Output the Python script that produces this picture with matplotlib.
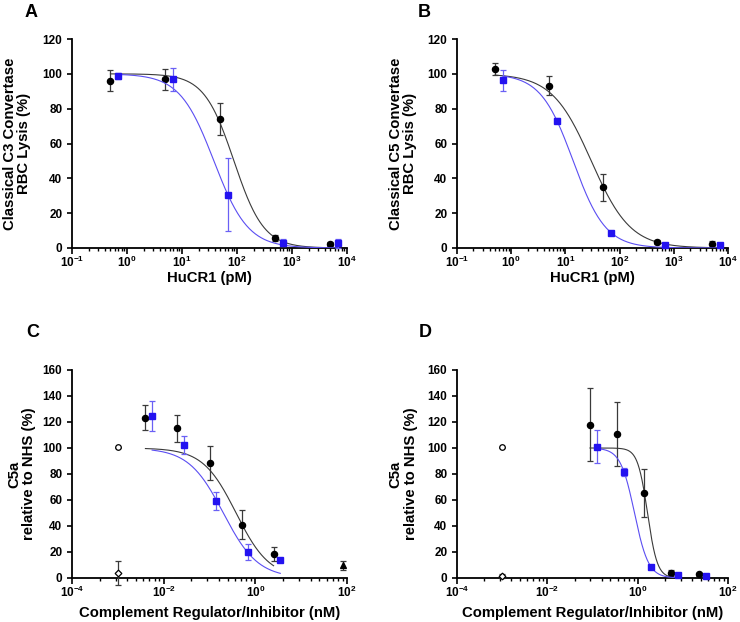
import numpy as np
import matplotlib
matplotlib.use('Agg')
import matplotlib.pyplot as plt
import matplotlib.ticker as ticker

plt.rcParams['font.family'] = ['Liberation Sans', 'DejaVu Sans']
plt.rcParams['font.weight'] = 'bold'
plt.rcParams['mathtext.fontset'] = 'custom'
plt.rcParams['mathtext.rm'] = 'Liberation Sans:bold'
plt.rcParams['mathtext.it'] = 'Liberation Sans:bold'
plt.rcParams['mathtext.bf'] = 'Liberation Sans:bold'

# ---------- Panel A: classical C3 convertase (HuCR1, pM) ----------
a_conc_black = [0.5, 5, 50, 500, 5000]
a_lysis_black = [96, 97, 74, 5.5, 2.3]
a_err_black = [6, 6, 9, 1.7, 1]
a_conc_blue = [0.7, 7, 70, 700, 7000]
a_lysis_blue = [98.8, 96.9, 30.6, 2.9, 2.7]
a_err_blue = [1.8, 6.7, 20.8, 2, 2.5]
# fitted curves: top, bottom, IC50, hill, x from, x to
a_fit_black = [100, 0, 88, 1.6, 0.5, 5000]
a_fit_blue = [100, 0, 38, 1.4, 0.7, 7000]

# ---------- Panel B: classical C5 convertase (HuCR1, pM) ----------
b_conc_black = [0.5, 5, 50, 500, 5000]
b_lysis_black = [102.8, 93.3, 34.8, 3.4, 2.3]
b_err_black = [3.6, 5.5, 7.8, 1, 2]
b_conc_blue = [0.7, 7, 70, 700, 7000]
b_lysis_blue = [96.3, 73.2, 8.6, 1.9, 1.9]
b_err_blue = [6.1, 1.7, 1, 0.6, 0.6]
b_fit_black = [100, 0, 30, 1.2, 0.5, 5000]
b_fit_blue = [100, 0, 13.9, 1.45, 0.7, 7000]

# ---------- Panel C: C5a relative to NHS (nM) ----------
c_conc_black = [0.004, 0.02, 0.1, 0.5, 2.5]
c_c5a_black = [123.4, 115.2, 88.3, 41, 18.4]
c_err_black = [9.3, 10.3, 12.9, 11, 5.1]
c_conc_blue = [0.0056, 0.028, 0.14, 0.7, 3.5]
c_c5a_blue = [124.7, 102.4, 58.9, 20.2, 13.6]
c_err_blue = [11.4, 7, 6.9, 6, 0.5]
c_fit_black = [100, 0, 0.38, 1.2, 0.004, 2.5]
c_fit_blue = [100, 0, 0.2, 1.15, 0.0056, 3.5]
c_nhs = [0.001, 100.4, 0.5]          # x, y, err (open circle)
c_inact = [0.001, 3.8, 9]            # open diamond
c_inhib = [80, 9.7, 3.4]             # filled triangle

# ---------- Panel D: C5a relative to NHS (nM) ----------
d_conc_black = [0.088, 0.35, 1.4, 5.6, 22.4]
d_c5a_black = [118, 110.9, 65.3, 3.8, 2.8]
d_err_black = [28, 24.6, 18.5, 2, 1]
d_conc_blue = [0.125, 0.5, 2, 8, 32]
d_c5a_blue = [101.1, 81.7, 8.2, 2.6, 1.5]
d_err_blue = [12.7, 3, 1, 1.2, 0.6]
d_fit_black = [100, 0, 1.65, 4.0, 0.088, 5.6]
d_fit_blue = [100, 0, 0.85, 2.8, 0.125, 8]
d_nhs = [0.001, 100.6, 0.5]
d_inact = [0.001, 1.5, 1.5]

BLACK = '#000000'
BLACK_LINE = '#3a3a3a'
BLUE = '#2312f0'
BLUE_LINE = '#5b4ef2'
BLUE_ERR = '#6a60f5'
TICK_FS = 8.5
LABEL_FS = 10.7


def logistic(fit):
    top, bottom, ic50, hill, x0, x1 = fit
    x = np.logspace(np.log10(x0), np.log10(x1), 300)
    return x, bottom + (top - bottom) / (1 + (x / ic50) ** hill)


def style_axes(ax, xmin, xmax, ymax, major_exps, minor_ticks):
    ax.set_xscale('log')
    ax.set_xlim(xmin, xmax)
    ax.set_ylim(0, ymax)
    ax.spines['top'].set_visible(False)
    ax.spines['right'].set_visible(False)
    for s in ['left', 'bottom']:
        ax.spines[s].set_linewidth(1.3)
    ax.set_xticks([10.0 ** e for e in major_exps])
    ax.set_xticklabels([f'$10^{{{e}}}$' for e in major_exps])
    ax.xaxis.set_minor_locator(ticker.FixedLocator(minor_ticks))
    ax.xaxis.set_minor_formatter(ticker.NullFormatter())
    ax.set_yticks(np.arange(0, ymax + 1, 20))
    ax.tick_params(axis='x', which='major', length=4, width=1.2, labelsize=TICK_FS, pad=1)
    ax.tick_params(axis='x', which='minor', length=2.5, width=1)
    ax.tick_params(axis='y', which='major', length=3.5, width=1.2, labelsize=TICK_FS, pad=3.5)


def draw_series(ax, x, y, err, fit, marker, color, ecolor, lcolor, zorder):
    cx, cy = logistic(fit)
    ax.plot(cx, cy, color=lcolor, lw=0.8, zorder=zorder)
    ax.errorbar(x, y, yerr=err, fmt='none', ecolor=ecolor, elinewidth=0.9,
                capsize=2.5, capthick=0.9, zorder=zorder + 1, clip_on=False)
    ax.plot(x, y, linestyle='none', marker=marker, color=color, markersize=4.4,
            zorder=zorder + 2, clip_on=False)


fig = plt.figure(figsize=(7.4, 6.22), dpi=100)
W, H = 740, 622


def make_axes(x0, x1, ytop, ybot):
    return fig.add_axes([x0 / W, 1 - ybot / H, (x1 - x0) / W, (ybot - ytop) / H])


axA = make_axes(72, 347, 39, 248)
axB = make_axes(457, 728, 39, 248)
axC = make_axes(72, 347, 370, 578)
axD = make_axes(457, 728, 370, 578)

# decade minor ticks for the pM axes
pm_minor = [k * 10.0 ** e for e in range(-1, 4) for k in range(2, 10)]
# minor ticks between 2-decade majors (nM axes)
nm_minor = [k ** 2 * 10.0 ** e for e in (-4, -2, 0) for k in range(2, 10)]

for ax, d in [(axA, [a_conc_black, a_lysis_black, a_err_black, a_fit_black,
                     a_conc_blue, a_lysis_blue, a_err_blue, a_fit_blue]),
              (axB, [b_conc_black, b_lysis_black, b_err_black, b_fit_black,
                     b_conc_blue, b_lysis_blue, b_err_blue, b_fit_blue])]:
    style_axes(ax, 0.1, 1e4, 120, [-1, 0, 1, 2, 3, 4], pm_minor)
    draw_series(ax, d[0], d[1], d[2], d[3], 'o', BLACK, BLACK_LINE, BLACK_LINE, 3)
    draw_series(ax, d[4], d[5], d[6], d[7], 's', BLUE, BLUE_ERR, BLUE_LINE, 6)
    ax.set_xlabel('HuCR1 (pM)', fontsize=LABEL_FS, fontweight='bold')

axA.set_ylabel('Classical C3 Convertase\nRBC Lysis (%)', fontsize=LABEL_FS,
               fontweight='bold', linespacing=1.05)
axB.set_ylabel('Classical C5 Convertase\nRBC Lysis (%)', fontsize=LABEL_FS,
               fontweight='bold', linespacing=1.05)

for ax, d in [(axC, [c_conc_black, c_c5a_black, c_err_black, c_fit_black,
                     c_conc_blue, c_c5a_blue, c_err_blue, c_fit_blue]),
              (axD, [d_conc_black, d_c5a_black, d_err_black, d_fit_black,
                     d_conc_blue, d_c5a_blue, d_err_blue, d_fit_blue])]:
    style_axes(ax, 1e-4, 1e2, 160, [-4, -2, 0, 2], nm_minor)
    draw_series(ax, d[0], d[1], d[2], d[3], 'o', BLACK, BLACK_LINE, BLACK_LINE, 3)
    draw_series(ax, d[4], d[5], d[6], d[7], 's', BLUE, BLUE_ERR, BLUE_LINE, 6)
    ax.set_xlabel('Complement Regulator/Inhibitor (nM)', fontsize=LABEL_FS, fontweight='bold')
    ax.set_ylabel('C5a\nrelative to NHS (%)', fontsize=LABEL_FS, fontweight='bold',
                  linespacing=1.1)

# control points
for ax, ctrl, mk, fc in [(axC, c_nhs, 'o', 'white'), (axC, c_inact, 'D', 'white'),
                         (axC, c_inhib, '^', BLACK), (axD, d_nhs, 'o', 'white'),
                         (axD, d_inact, 'D', 'white')]:
    ax.errorbar([ctrl[0]], [ctrl[1]], yerr=[ctrl[2]], fmt='none', ecolor=BLACK_LINE,
                elinewidth=0.9, capsize=2.5, capthick=0.9, zorder=8, clip_on=False)
    ax.plot([ctrl[0]], [ctrl[1]], linestyle='none', marker=mk,
            markersize=3.4 if mk == 'D' else 4.0,
            markerfacecolor=fc, markeredgecolor=BLACK, markeredgewidth=0.9, zorder=9,
            clip_on=False)

# label positions
axA.xaxis.set_label_coords(0.5, -0.11)
axB.xaxis.set_label_coords(0.5, -0.11)
axC.xaxis.set_label_coords(0.5, -0.135)
axD.xaxis.set_label_coords(0.5, -0.135)
for ax, xpos in [(axA, -0.2), (axB, -0.2), (axC, -0.182), (axD, -0.198)]:
    ax.yaxis.label.set_verticalalignment('center')
    ax.yaxis.set_label_coords(xpos, 0.5)

for letter, px, py in [('A', 25, 17), ('B', 418, 17), ('C', 26, 337), ('D', 419, 337)]:
    fig.text(px / W, 1 - py / H, letter, fontsize=13, fontweight='bold', va='baseline')

fig.savefig('out.png', dpi=100)
